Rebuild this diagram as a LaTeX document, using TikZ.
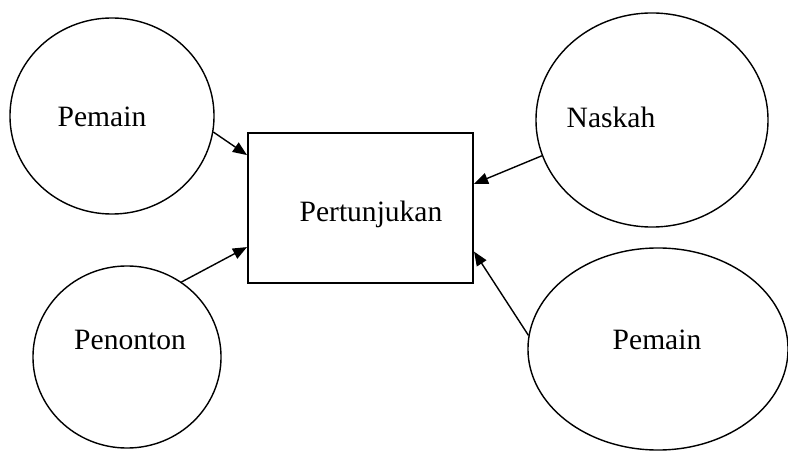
\documentclass[tikz,border=0pt]{standalone}
\usepackage{fontspec}
\setmainfont{Liberation Serif}
\usetikzlibrary{arrows.meta,shapes.geometric}

\begin{document}
\begin{tikzpicture}[x=0.025cm, y=-0.025cm,
    oval/.style={draw, ellipse, line width=1pt, inner sep=0pt},
    lbl/.style={font=\fontsize{21}{25}\selectfont, inner sep=0pt},
    flow/.style={-{Triangle[length=10pt, width=8pt]}, line width=1pt}]
  \useasboundingbox (0,0) rectangle (788,451);
  % the four sources
  \node[oval, minimum width=5.1cm, minimum height=4.9cm]   (pemainA)  at (112,116) {};
  \node[oval, minimum width=4.7cm, minimum height=4.55cm]  (penonton) at (127,357) {};
  \node[oval, minimum width=5.8cm, minimum height=5.35cm]  (naskah)   at (652,120) {};
  \node[oval, minimum width=6.5cm, minimum height=5.05cm]  (pemainB)  at (658,349) {};
  % the show
  \node[draw, line width=1.4pt, minimum width=5.625cm, minimum height=3.75cm] (show) at (360.5,208) {};
  % texts
  \node[lbl] (tPemainA)  at (102,117) {Pemain};
  \node[lbl] (tPenonton) at (130,340) {Penonton};
  \node[lbl] (tNaskah)   at (611,117) {Naskah};
  \node[lbl] (tPemainB)  at (657,340) {Pemain};
  \node[lbl] (tShow)     at (371,214) {Pertunjukan};
  % arrows into the box
  \draw[flow] (pemainA.-9)   -- (show.155.2);
  \draw[flow] (penonton.54)  -- (show.199.6);
  \draw[flow] (naskah.198)   -- (show.12.5);
  \draw[flow] (pemainB.174.6) -- (show.-21.4);
\end{tikzpicture}
\end{document}
